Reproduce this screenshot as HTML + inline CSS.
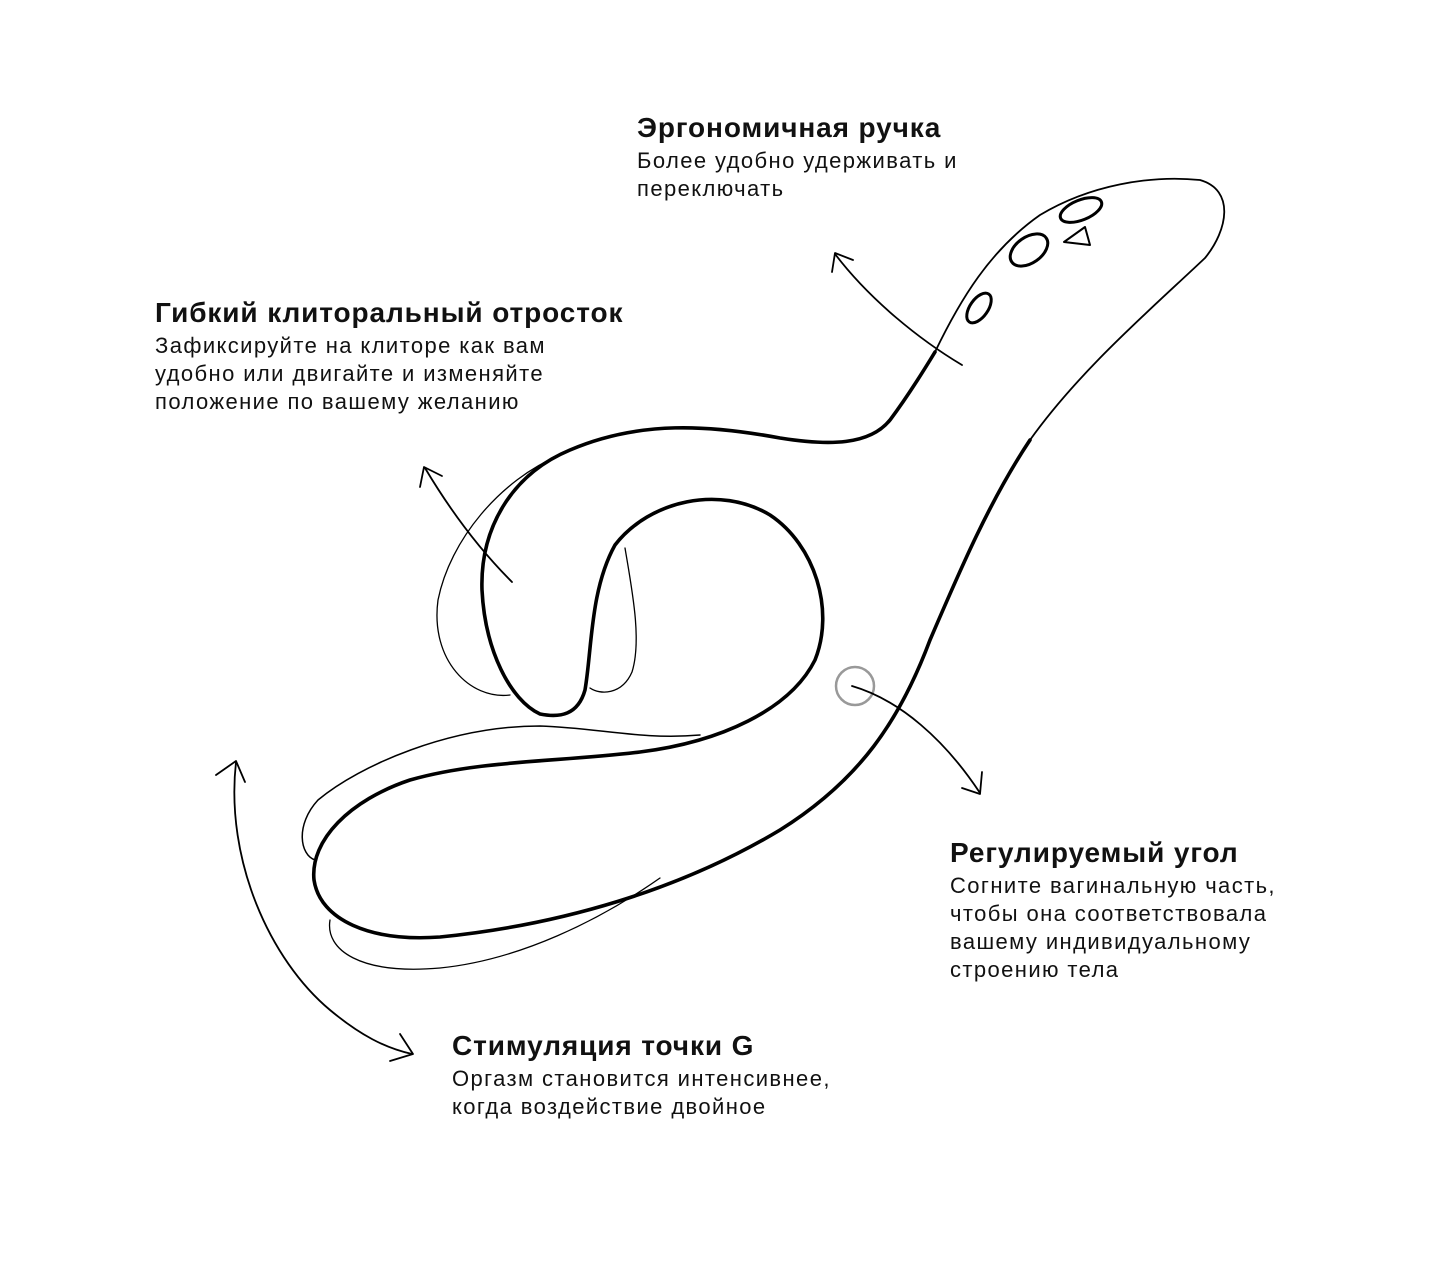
<!DOCTYPE html>
<html><head><meta charset="utf-8"><style>
html,body{margin:0;padding:0;background:#fff;}
body{width:1439px;height:1268px;position:relative;overflow:hidden;font-family:"Liberation Sans","Noto Sans CJK SC",sans-serif;color:#111;}
.t{position:absolute;white-space:nowrap;}
.t b{display:block;font-size:28px;font-weight:bold;line-height:30px;margin-bottom:4px;letter-spacing:0.9px;}
.t span{display:block;font-size:22px;line-height:28px;letter-spacing:1.4px;}
svg{position:absolute;left:0;top:0;}
</style></head><body>
<svg width="1439" height="1268" viewBox="0 0 1439 1268" fill="none" stroke="#000" stroke-linecap="round" stroke-linejoin="round">
<path d="M560,455 C500,480 450,540 438,600 C430,660 470,700 510,695" stroke-width="1.3"/>
<path d="M625,548 C632,590 642,640 632,672 C622,695 600,695 590,688" stroke-width="1.3"/>
<path d="M700,735 C640,740 600,728 540,726 C450,726 360,765 318,800 C295,825 300,855 315,860" stroke-width="1.5"/>
<path d="M330,920 C325,950 360,975 440,968 C520,960 600,920 660,878" stroke-width="1.3"/>
<path d="M935,352 C960,300 990,250 1040,215 C1090,185 1150,175 1200,180 C1235,190 1228,230 1205,258 C1150,310 1080,370 1030,440" stroke-width="1.8"/>
<path d="M1030,440 C990,500 960,570 930,640 C900,720 860,780 780,830 C680,890 560,925 440,937 C370,942 320,920 314,880 C310,840 350,800 410,780 C480,760 560,762 640,752 C720,742 790,710 815,660 C835,610 815,545 770,515 C720,485 650,500 615,545 C590,590 592,650 585,690 C578,715 560,718 540,714 C510,700 485,650 482,590 C480,530 510,475 570,450 C640,420 710,425 780,438 C830,446 870,445 890,420 C905,400 918,380 935,352" stroke-width="3.6"/>
<ellipse cx="1081" cy="210" rx="22" ry="10" transform="rotate(-22 1081 210)" stroke-width="3"/>
<ellipse cx="1029" cy="250" rx="21" ry="13" transform="rotate(-35 1029 250)" stroke-width="3"/>
<ellipse cx="979" cy="308" rx="9" ry="17" transform="rotate(35 979 308)" stroke-width="3"/>
<path d="M1085,227 L1090,245 L1064,242 Z" stroke-width="2"/>
<circle cx="855" cy="686" r="19" stroke="#999" stroke-width="2.5"/>
<path d="M962,365 C920,340 870,300 835,254" stroke-width="1.8"/>
<path d="M832,272 L835,253 L853,260" stroke-width="1.8"/>
<path d="M512,582 C480,550 450,510 425,468" stroke-width="1.8"/>
<path d="M420,487 L424,467 L442,476" stroke-width="1.8"/>
<path d="M852,686 C900,700 945,740 980,793" stroke-width="1.8"/>
<path d="M962,788 L980,794 L982,772" stroke-width="1.8"/>
<path d="M236,762 C225,860 270,960 330,1010 C360,1035 385,1048 412,1054" stroke-width="1.8"/>
<path d="M216,775 L236,761 L245,782" stroke-width="1.8"/>
<path d="M400,1034 L413,1054 L390,1061" stroke-width="1.8"/>
</svg>
<div class="t" style="left:637px;top:113px;"><b>Эргономичная ручка</b><span>Более удобно удерживать и</span><span>переключать</span></div>
<div class="t" style="left:155px;top:298px;"><b>Гибкий клиторальный отросток</b><span>Зафиксируйте на клиторе как вам</span><span>удобно или двигайте и изменяйте</span><span>положение по вашему желанию</span></div>
<div class="t" style="left:950px;top:838px;"><b>Регулируемый угол</b><span>Согните вагинальную часть,</span><span>чтобы она соответствовала</span><span>вашему индивидуальному</span><span>строению тела</span></div>
<div class="t" style="left:452px;top:1031px;"><b>Стимуляция точки G</b><span>Оргазм становится интенсивнее,</span><span>когда воздействие двойное</span></div>
</body></html>
